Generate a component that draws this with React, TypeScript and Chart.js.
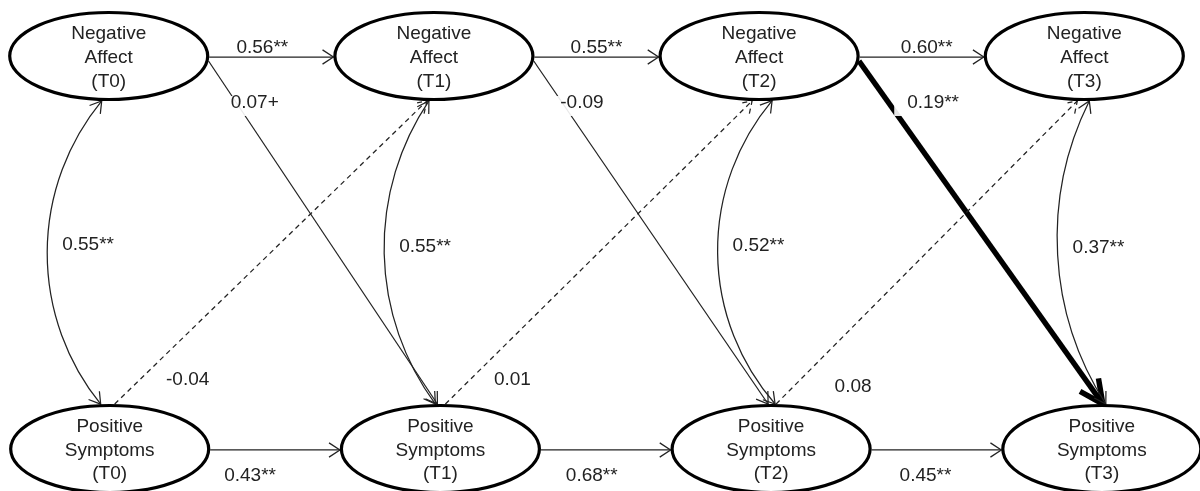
import React, { useEffect, useRef } from 'react';
import { Chart, registerables } from 'chart.js';

Chart.register(...registerables);

// ---------- data ----------
const timePoints = ['T0', 'T1', 'T2', 'T3'];
const constructs = ['Negative Affect', 'Positive Symptoms'];
const naNameLines = ['Negative', 'Affect'];
const psNameLines = ['Positive', 'Symptoms'];
const naStability = ['0.56**', '0.55**', '0.60**'];
const psStability = ['0.43**', '0.68**', '0.45**'];
const naToPsLagged = ['0.07+', '-0.09', '0.19**'];
const psToNaLagged = ['-0.04', '0.01', '0.08'];
const covariances = ['0.55**', '0.55**', '0.52**', '0.37**'];

// ---------- layout / style (not data) ----------
const RX = 99;
const RY = 43.5;
const INK = '#222222';
const FONT = '19px "Liberation Sans", Arial, Helvetica, sans-serif';
const THIN = 1.25;
// per-column geometry tweaks (px)
const covTopDx = [-7, -5, 13, 5];
const covBottomDx = [-9, -5, 4, 4];
const covBulge = [54, 48, 56, 40];
const naStabLabelDx = [-9, 0, 5];
const psStabLabelDx = [-25, -14, -11];
const naToPsLabelDx = [146, 148, 174];
const psToNaLabelDx = [78, 72, 82];
const psToNaLabelDy = [-64, -64, -57];

type P = { x: number; y: number };

function topPoint(c: P, dx: number): P {
  const f = Math.sqrt(Math.max(0, 1 - (dx / RX) ** 2));
  return { x: c.x + dx, y: c.y - (RY + 1.5) * f };
}
function bottomPoint(c: P, dx: number): P {
  const f = Math.sqrt(Math.max(0, 1 - (dx / RX) ** 2));
  return { x: c.x + dx, y: c.y + (RY + 1.5) * f };
}
function rightPoint(c: P, dy: number): P {
  const f = Math.sqrt(Math.max(0, 1 - (dy / RY) ** 2));
  return { x: c.x + (RX + 1.5) * f, y: c.y + dy };
}

function arrowHead(ctx: CanvasRenderingContext2D, from: P, tip: P, len: number, half: number, width: number, color: string, dash: number[] = []) {
  const a = Math.atan2(tip.y - from.y, tip.x - from.x);
  ctx.save();
  ctx.setLineDash(dash);
  ctx.lineWidth = width;
  ctx.strokeStyle = color;
  ctx.beginPath();
  ctx.moveTo(tip.x - len * Math.cos(a - half), tip.y - len * Math.sin(a - half));
  ctx.lineTo(tip.x, tip.y);
  ctx.lineTo(tip.x - len * Math.cos(a + half), tip.y - len * Math.sin(a + half));
  ctx.stroke();
  ctx.restore();
}

function straightArrow(ctx: CanvasRenderingContext2D, a: P, b: P, opts: { width?: number; dash?: number[]; headLen?: number; headHalf?: number; color?: string }) {
  const width = opts.width ?? THIN;
  const color = opts.color ?? INK;
  ctx.save();
  ctx.strokeStyle = color;
  ctx.lineWidth = width;
  ctx.setLineDash(opts.dash ?? []);
  ctx.beginPath();
  ctx.moveTo(a.x, a.y);
  ctx.lineTo(b.x, b.y);
  ctx.stroke();
  ctx.restore();
  arrowHead(ctx, a, b, opts.headLen ?? 13, opts.headHalf ?? 0.58, width, color, opts.dash ?? []);
}

function covArc(ctx: CanvasRenderingContext2D, t: P, b: P, s: number): P {
  const mx = (t.x + b.x) / 2, my = (t.y + b.y) / 2;
  const dx = b.x - t.x, dy = b.y - t.y;
  const L = Math.hypot(dx, dy);
  const ux = dx / L, uy = dy / L;
  const nx = -uy, ny = ux; // left side
  const R = (L * L / 4 + s * s) / (2 * s);
  const cx = mx - nx * (R - s), cy = my - ny * (R - s);
  const a0 = Math.atan2(t.y - cy, t.x - cx);
  const a1 = Math.atan2(b.y - cy, b.x - cx);
  ctx.save();
  ctx.strokeStyle = INK;
  ctx.lineWidth = THIN;
  ctx.beginPath();
  ctx.arc(cx, cy, R, a0, a1, true);
  ctx.stroke();
  ctx.restore();
  const e = 0.06;
  const nearT = { x: cx + R * Math.cos(a0 - e), y: cy + R * Math.sin(a0 - e) };
  const nearB = { x: cx + R * Math.cos(a1 + e), y: cy + R * Math.sin(a1 + e) };
  arrowHead(ctx, nearT, t, 13, 0.55, THIN, INK);
  arrowHead(ctx, nearB, b, 13, 0.55, THIN, INK);
  return { x: mx + nx * s, y: my + ny * s };
}

function label(ctx: CanvasRenderingContext2D, text: string, x: number, baseline: number, align: 'center' | 'left' = 'center', box = true) {
  ctx.save();
  ctx.font = FONT;
  const w = ctx.measureText(text).width;
  const left = align === 'center' ? x - w / 2 : x;
  if (box) {
    ctx.fillStyle = 'rgba(255,255,255,0.9)';
    ctx.fillRect(left - 13, baseline - 12, w + 20, 20);
  }
  ctx.fillStyle = INK;
  ctx.textAlign = 'left';
  ctx.textBaseline = 'alphabetic';
  ctx.fillText(text, left, baseline);
  ctx.restore();
}

function node(ctx: CanvasRenderingContext2D, c: P, lines: string[]) {
  ctx.save();
  ctx.beginPath();
  ctx.ellipse(c.x, c.y, RX, RY, 0, 0, Math.PI * 2);
  ctx.fillStyle = '#ffffff';
  ctx.fill();
  ctx.lineWidth = 3.2;
  ctx.strokeStyle = '#000';
  ctx.stroke();
  ctx.font = FONT;
  ctx.fillStyle = INK;
  ctx.textAlign = 'center';
  ctx.textBaseline = 'alphabetic';
  const offs = [-17, 7, 30.5];
  lines.forEach((l, i) => ctx.fillText(l, c.x, c.y + offs[i]));
  ctx.restore();
}

const diagramPlugin = {
  id: 'pathDiagram',
  afterDatasetsDraw(chart: any) {
    const ctx: CanvasRenderingContext2D = chart.ctx;
    const na: P[] = chart.getDatasetMeta(0).data.map((e: any) => ({ x: e.x, y: e.y }));
    const ps: P[] = chart.getDatasetMeta(1).data.map((e: any) => ({ x: e.x, y: e.y }));
    const labels: Array<() => void> = [];

    for (let k = 0; k < timePoints.length - 1; k++) {
      // autoregressive NA
      const a1 = { x: na[k].x + RX + 1.5, y: na[k].y + 1 };
      const b1 = { x: na[k + 1].x - RX - 1.5, y: na[k + 1].y + 1 };
      straightArrow(ctx, a1, b1, {});
      labels.push(() => label(ctx, naStability[k], (a1.x + b1.x) / 2 + naStabLabelDx[k], a1.y - 4, 'center', false));
      // autoregressive PS
      const a2 = { x: ps[k].x + RX + 1.5, y: ps[k].y + 1 };
      const b2 = { x: ps[k + 1].x - RX - 1.5, y: ps[k + 1].y + 1 };
      straightArrow(ctx, a2, b2, {});
      labels.push(() => label(ctx, psStability[k], (a2.x + b2.x) / 2 + psStabLabelDx[k], a2.y + 31, 'center', false));
      // NA -> PS cross-lagged
      const bold = naToPsLagged[k].includes('**');
      const a3 = rightPoint(na[k], 5);
      const b3 = topPoint(ps[k + 1], bold ? 1 : -3);
      straightArrow(ctx, a3, b3, bold ? { width: 5.5, headLen: 26, headHalf: 0.45, color: '#000' } : {});
      labels.push(() => label(ctx, naToPsLagged[k], na[k].x + naToPsLabelDx[k], na[k].y + 52));
      // PS -> NA cross-lagged (dashed)
      const a4 = topPoint(ps[k], 5);
      const b4 = bottomPoint(na[k + 1], -7);
      straightArrow(ctx, a4, b4, { dash: [5, 4] });
      labels.push(() => label(ctx, psToNaLagged[k], ps[k].x + psToNaLabelDx[k], ps[k].y + psToNaLabelDy[k]));
    }
    // within-time covariances
    for (let k = 0; k < timePoints.length; k++) {
      const t = bottomPoint(na[k], covTopDx[k]);
      const b = topPoint(ps[k], covBottomDx[k]);
      const apex = covArc(ctx, t, b, covBulge[k]);
      labels.push(() => label(ctx, covariances[k], apex.x + 15, apex.y - 2, 'left', false));
    }
    labels.forEach((f) => f());
    for (let k = 0; k < timePoints.length; k++) {
      node(ctx, na[k], [...naNameLines, `(${timePoints[k]})`]);
      node(ctx, ps[k], [...psNameLines, `(${timePoints[k]})`]);
    }
  },
};

export default function App() {
  const ref = useRef<HTMLCanvasElement | null>(null);
  useEffect(() => {
    document.body.style.margin = '0';
    if (!ref.current) return;
    const chart = new Chart(ref.current, {
      type: 'scatter',
      data: {
        datasets: [
          {
            label: constructs[0],
            data: timePoints.map((_, i) => ({ x: i, y: 1 })),
            xAxisID: 'xTop',
            yAxisID: 'y',
            pointRadius: 0,
            showLine: false,
          },
          {
            label: constructs[1],
            data: timePoints.map((_, i) => ({ x: i, y: 0 })),
            xAxisID: 'xBottom',
            yAxisID: 'y',
            pointRadius: 0,
            showLine: false,
          },
        ],
      },
      options: {
        animation: false,
        responsive: true,
        maintainAspectRatio: false,
        layout: { padding: 0 },
        events: [],
        plugins: { legend: { display: false }, tooltip: { enabled: false } },
        scales: {
          xTop: { type: 'linear', display: false, min: -0.3343, max: 3.3558 },
          xBottom: { type: 'linear', display: false, min: -0.3317, max: 3.2969 },
          y: { type: 'linear', display: false, min: -0.1069, max: 1.1425 },
        },
      },
      plugins: [diagramPlugin],
    });
    return () => chart.destroy();
  }, []);
  return (
    <div style={{ position: 'absolute', left: 0, top: 0, width: 1200, height: 491, background: '#fff' }}>
      <canvas ref={ref} />
    </div>
  );
}
